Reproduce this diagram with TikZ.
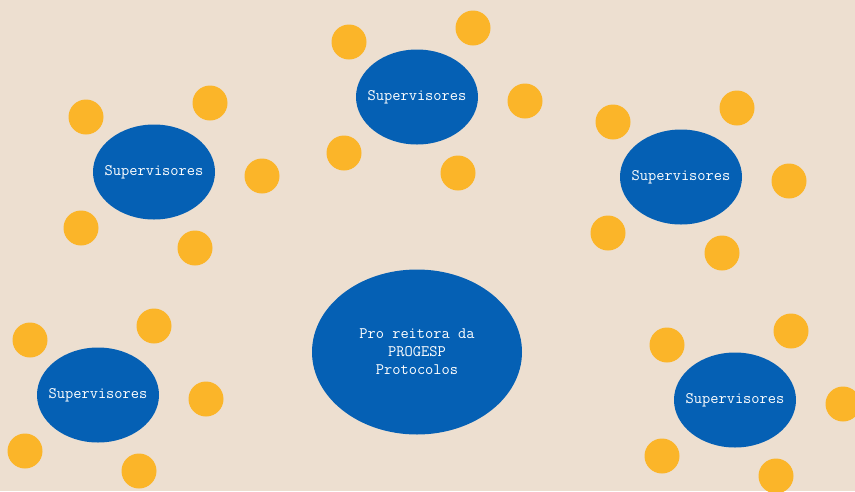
\documentclass[tikz,border=0pt]{standalone}
\usepackage{fontspec}
\usetikzlibrary{shapes.geometric}
\definecolor{papel}{RGB}{237,223,208}
\definecolor{azul}{RGB}{5,96,180}
\definecolor{laranja}{RGB}{251,181,41}
\tikzset{
  grupo/.style={ellipse,fill=azul,text=white,minimum width=122pt,minimum height=95pt,
    inner sep=0pt,font=\fontsize{16}{18}\selectfont\ttfamily},
  bola/.style={circle,fill=laranja,minimum size=35pt,inner sep=0pt}
}

\begin{document}
\begin{tikzpicture}[x=1pt,y=-1pt]
      \fill[papel] (0,0) rectangle (855,491);
      \useasboundingbox (0,0) rectangle (855,491);
      % centro
      \node[grupo,minimum width=210pt,minimum height=165pt,align=center] (centro) at (417,352)
        {\makebox[0pt]{Pro reitora da}\\PROGESP\\Protocolos};
      % supervisores e suas bolas
      \foreach \n/\x/\y in {a/154/172, b/417/97, c/681/177, d/98/395, e/735/400} {
        \node[grupo] (sup\n) at (\x,\y) {\makebox[0pt]{Supervisores}};
        \node[bola] (\n1) at (\x-68,\y-55) {};
        \node[bola] (\n2) at (\x+56,\y-69) {};
        \node[bola] (\n3) at (\x+108,\y+4) {};
        \node[bola] (\n4) at (\x+41,\y+76) {};
        \node[bola] (\n5) at (\x-73,\y+56) {};
      }
    \end{tikzpicture}
\end{document}
